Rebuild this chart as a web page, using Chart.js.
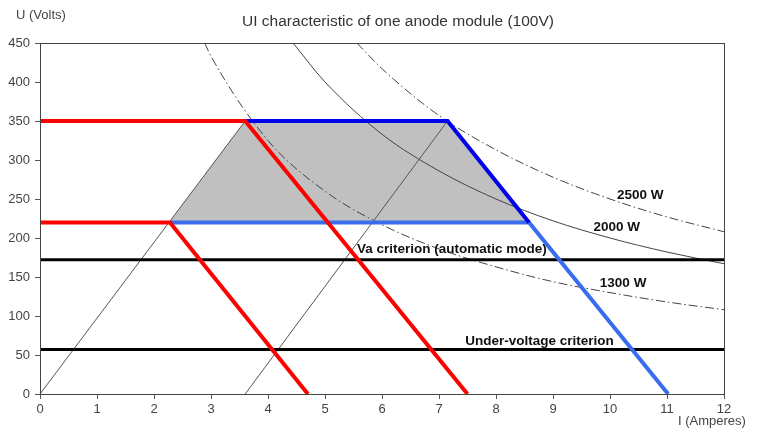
<!DOCTYPE html>
<html>
<head>
<meta charset="utf-8">
<script src="https://cdn.jsdelivr.net/npm/chart.js@4.4.0/dist/chart.umd.min.js"></script>
<style>
  html, body { margin: 0; padding: 0; background: #fff; }
  #wrap { width: 757px; height: 428px; }
</style>
</head>
<body>
<div id="wrap"><canvas id="ui"></canvas></div>
<script>
// operating limits (I in A, U in V)
const redHighI = [0, 3.6, 7.5];
const redHighU = [350, 350, 0];
const redLowI = [0, 2.28, 4.7];
const redLowU = [220, 220, 0];
const blueTopI = [3.6, 7.15, 8.58];
const blueTopU = [350, 350, 220];
const blueLowI = [2.28, 8.58, 11.02];
const blueLowU = [220, 220, 0];
// shaded working zone (upper edge, filled down to 220 V)
const zoneI = [2.26, 3.6, 7.15, 8.58];
const zoneU = [220, 350, 350, 220];
// thin load lines
const load1I = [0, 3.6];
const load1U = [0, 350];
const load2I = [3.6, 7.15];
const load2U = [0, 350];
// power curves
const p2000I = [4.44, 5, 6, 7, 8, 9, 10, 11, 12];
const p2000U = [450, 400, 333, 286, 250, 222, 200, 182, 167];
const p2500I = [5.56, 6, 7, 8, 9, 10, 11, 12];
const p2500U = [450, 417, 357, 313, 278, 250, 227, 208];
const p1300I = [2.89, 3, 4, 5, 6, 7, 8, 9, 10, 11, 12];
const p1300U = [450, 433, 325, 260, 217, 186, 163, 144, 130, 118, 108];
// criteria
const vaI = [0, 12];
const vaU = [172, 172];
const uvI = [0, 12];
const uvU = [57, 57];

const xTicks = [0, 1, 2, 3, 4, 5, 6, 7, 8, 9, 10, 11, 12];
const yTicks = [0, 50, 100, 150, 200, 250, 300, 350, 400, 450];

const notes = [
    { text: '2500 W', x: 10.53, y: 255, align: 'center' },
    { text: '2000 W', x: 10.12, y: 214, align: 'center' },
    { text: 'Va criterion (automatic mode)', x: 5.56, y: 185, align: 'left' },
    { text: '1300 W', x: 10.23, y: 142, align: 'center' },
    { text: 'Under-voltage criterion', x: 7.46, y: 67, align: 'left' }
];

const chartTitle = 'UI characteristic of one anode module (100V)';

const FONT = '"Liberation Sans", Arial, sans-serif';

function pts(xs, ys) {
    return xs.map((x, i) => ({ x: x, y: ys[i] }));
}

function seg(xs, ys, color, width, order, extra) {
    return Object.assign({
        data: pts(xs, ys),
        showLine: true,
        borderColor: color,
        borderWidth: width,
        pointRadius: 0,
        fill: false,
        tension: 0,
        order: order
    }, extra || {});
}

const dashDot = [9, 3, 1.5, 3];

const textPlugin = {
    id: 'texts',
    afterDatasetsDraw(chart) {
        const ctx = chart.ctx;
        const a = chart.chartArea;
        const xs = chart.scales.x, ys = chart.scales.y;
        ctx.save();
        ctx.strokeStyle = '#444';
        ctx.lineWidth = 1;
        ctx.strokeRect(a.left + 0.5, a.top + 0.5, a.right - a.left, a.bottom - a.top);

        ctx.fillStyle = '#111';
        ctx.font = 'bold 13.5px ' + FONT;
        ctx.textBaseline = 'middle';
        notes.forEach(n => {
            ctx.textAlign = n.align;
            ctx.fillText(n.text, xs.getPixelForValue(n.x), ys.getPixelForValue(n.y));
        });

        ctx.fillStyle = '#333';
        ctx.font = '15.5px ' + FONT;
        ctx.textAlign = 'center';
        ctx.fillText(chartTitle, 398, 22);

        ctx.fillStyle = '#444';
        ctx.font = '13px ' + FONT;
        ctx.textAlign = 'left';
        ctx.fillText('U (Volts)', 16, 15);
        ctx.fillText('I (Amperes)', 678, 421);
        ctx.restore();
    }
};

new Chart(document.getElementById('ui'), {
    type: 'scatter',
    data: {
        datasets: [
            seg(redHighI, redHighU, '#ff0000', 4, 1),
            seg(redLowI, redLowU, '#ff0000', 4, 1),
            seg(blueTopI, blueTopU, '#0000ee', 4, 2),
            seg(blueLowI, blueLowU, '#3a6cf0', 4, 3),
            seg(vaI, vaU, '#000000', 3, 4),
            seg(uvI, uvU, '#000000', 3, 4),
            seg(load1I, load1U, '#555555', 1, 6),
            seg(load2I, load2U, '#555555', 1, 6),
            seg(p2000I, p2000U, '#444444', 1, 6, { tension: 0.4, cubicInterpolationMode: 'monotone' }),
            seg(p2500I, p2500U, '#444444', 1, 6, { tension: 0.4, cubicInterpolationMode: 'monotone', borderDash: dashDot }),
            seg(p1300I, p1300U, '#444444', 1, 6, { tension: 0.4, cubicInterpolationMode: 'monotone', borderDash: dashDot }),
            seg(zoneI, zoneU, 'rgba(0,0,0,0)', 0, 10, { fill: { value: 220 }, backgroundColor: '#c0c0c0' })
        ]
    },
    options: {
        responsive: true,
        maintainAspectRatio: false,
        animation: false,
        layout: { padding: { left: 0, right: 33, top: 43, bottom: 0 } },
        scales: {
            x: {
                type: 'linear',
                min: 0,
                max: 12,
                afterFit: s => { s.height = 34; },
                afterBuildTicks: s => { s.ticks = xTicks.map(v => ({ value: v })); },
                grid: { drawOnChartArea: false, tickLength: 5, color: '#555' },
                border: { color: '#555' },
                ticks: { color: '#444', padding: 3, maxRotation: 0, font: { family: FONT, size: 13 } }
            },
            y: {
                type: 'linear',
                min: 0,
                max: 450,
                afterFit: s => { s.width = 40; },
                afterBuildTicks: s => { s.ticks = yTicks.map(v => ({ value: v })); },
                grid: { drawOnChartArea: false, tickLength: 5, color: '#555' },
                border: { color: '#555' },
                ticks: { color: '#444', padding: 5, font: { family: FONT, size: 13 } }
            }
        },
        plugins: {
            legend: { display: false },
            tooltip: { enabled: false },
            title: { display: false }
        }
    },
    plugins: [textPlugin]
});
</script>
</body>
</html>
